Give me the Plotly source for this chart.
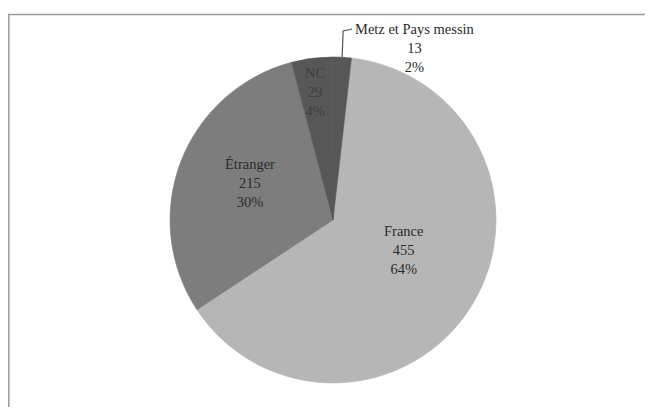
import numpy as np
import plotly.graph_objects as go

# Répartition des provenances
labels = ["France", "Étranger", "NC", "Metz et Pays messin"]
values = [455, 215, 29, 13]
percents = ["64%", "30%", "4%", "2%"]

slice_colors = ["#b6b6b6", "#7d7d7d", "#575757", "#575757"]
text_colors = ["#2b2b2b", "#2b2b2b", "#404040", "#2b2b2b"]
FONT = "Liberation Serif, Times New Roman, serif"
FS = 14.5

# the page body has an 8px margin, so the figure is sized to fit inside the window
W, H = 637, 399
rotation = 6.5
dom_x = [0.2543, 0.7661]
dom_y = [0.0602, 0.8772]

fig = go.Figure()
fig.add_trace(go.Pie(
    labels=labels,
    values=values,
    textinfo="none",
    marker=dict(colors=slice_colors, line=dict(color=slice_colors, width=0.6)),
    sort=False,
    direction="clockwise",
    rotation=rotation,
    domain=dict(x=dom_x, y=dom_y),
    showlegend=False,
    hoverinfo="label+value+percent",
))

# pie geometry in paper units
total = sum(values)
cx = (dom_x[0] + dom_x[1]) / 2
cy = (dom_y[0] + dom_y[1]) / 2
r_px = min((dom_x[1] - dom_x[0]) * W, (dom_y[1] - dom_y[0]) * H) / 2
cum = np.cumsum([0] + values)
mids = rotation + 360 * (cum[:-1] + cum[1:]) / 2 / total


def polar(angle_deg, frac):
    a = np.deg2rad(angle_deg)
    return cx + frac * r_px * np.sin(a) / W, cy + frac * r_px * np.cos(a) / H


# inside labels (Excel-like placement)
label_shift = [-8.5, 3, -0.5]
label_frac = [0.47, 0.56, 0.79]
for i in range(3):
    x, y = polar(mids[i] + label_shift[i], label_frac[i])
    fig.add_annotation(x=x, y=y, xref="paper", yref="paper", xanchor="center", yanchor="middle",
                       showarrow=False, text=f"{labels[i]}<br>{values[i]}<br>{percents[i]}",
                       font=dict(size=FS, color=text_colors[i], family=FONT))

# leader line and outside label for the small Metz slice
px0, py0 = polar(mids[-1], 1.0)
py1 = 1 - 23 / H
fig.add_shape(type="path", xref="paper", yref="paper",
              path=f"M {px0} {py0} L {px0 + 1 / W} {py1} L {px0 + 10 / W} {py1 + 2 / H}",
              line=dict(color="#555555", width=1.2))
fig.add_annotation(x=407 / W, y=1 - 11 / H, xref="paper", yref="paper", xanchor="center", yanchor="top",
                   text=f"{labels[-1]}<br>{values[-1]}<br>{percents[-1]}", showarrow=False,
                   font=dict(size=FS, color="#2b2b2b", family=FONT))

# cadre
fig.add_shape(type="rect", xref="paper", yref="paper", x0=0.8 / W, y0=-0.05, x1=1.05, y1=1 - 6.5 / H,
              line=dict(color="#9a9a9a", width=1.5))

fig.update_layout(
    width=W,
    height=H,
    margin=dict(l=0, r=0, t=0, b=0),
    paper_bgcolor="white",
    plot_bgcolor="white",
    font=dict(family=FONT, size=FS, color="#2b2b2b"),
)
fig.write_html("out.html")
